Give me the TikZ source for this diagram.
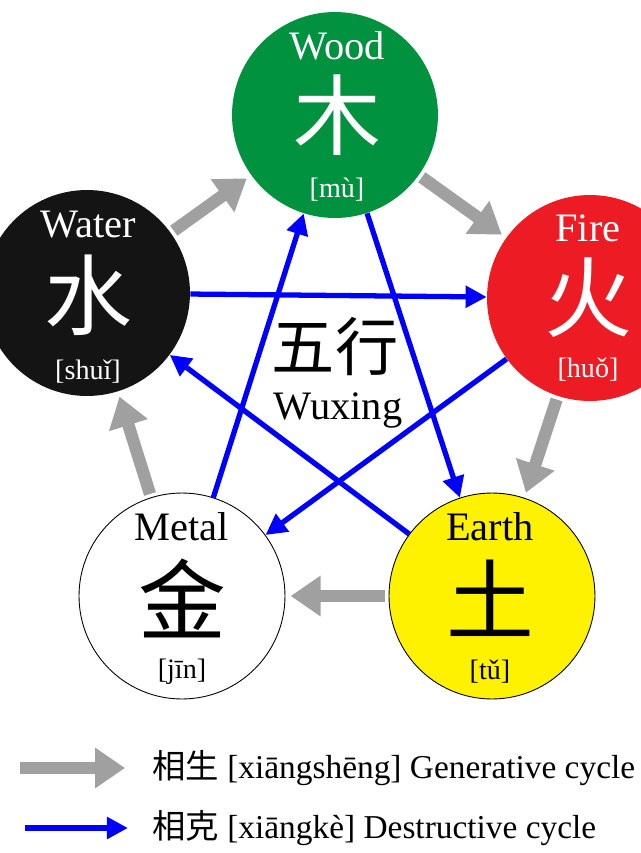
\documentclass[tikz,border=0pt]{standalone}
\usepackage{fontspec}
\setmainfont{Liberation Serif}
\newfontfamily\cjk{Noto Sans CJK SC}
\usetikzlibrary{arrows.meta}
\definecolor{woodgreen}{RGB}{0,146,63}
\definecolor{firered}{RGB}{237,28,36}
\definecolor{earthyellow}{RGB}{255,242,0}
\definecolor{waterblack}{RGB}{20,20,20}
\definecolor{cyclegray}{RGB}{160,160,160}

\tikzset{
  element/.style={circle,minimum size=4.12cm,inner sep=0pt},
  ename/.style={font=\fontsize{23}{23}\selectfont},
  echar/.style={font=\cjk\fontsize{50}{50}\selectfont},
  epy/.style={font=\fontsize{16}{16}\selectfont},
  gen/.style={draw=cyclegray,line width=7pt,-{Triangle[length=17pt,width=22pt]}},
  des/.style={draw=blue,line width=3pt,-{Triangle[length=12pt,width=12pt]}},
}

\begin{document}
\begin{tikzpicture}[x=0.02cm,y=-0.02cm]
  \useasboundingbox (0,0) rectangle (640,853);
  \fill[white] (0,0) rectangle (640,853);

  \node[element,fill=woodgreen] (wood) at (335,115) {};
  \node[element,fill=firered] (fire) at (590,298) {};
  \node[element,fill=earthyellow,draw=black,line width=0.5pt] (earth) at (492,596) {};
  \node[element,fill=white,draw=black,line width=0.5pt] (metal) at (182,596) {};
  \node[element,fill=waterblack] (water) at (87,293) {};

  % generative cycle
  \draw[gen,shorten <=2pt,shorten >=3pt] (wood) -- (fire);
  \draw[gen,shorten <=2pt,shorten >=3pt] (fire) -- (earth);
  \draw[gen,shorten <=2pt,shorten >=3pt] (earth) -- (metal);
  \draw[gen,shorten <=2pt,shorten >=3pt] (metal) -- (water);
  \draw[gen,shorten <=2pt,shorten >=3pt] (water) -- (wood);

  % destructive cycle
  \draw[des] (water) -- (fire);
  \draw[des] (fire) -- (metal);
  \draw[des] (metal) -- (wood);
  \draw[des] (wood) -- (earth);
  \draw[des] (earth) -- (water);

  % labels
  \node[white,ename] (woodname) at (337,46) {Wood};
  \node[white,echar] (woodchar) at (337,115) {木};
  \node[white,epy] (woodpy) at (337,190) {[mù]};
  \node[white,ename] (firename) at (588,228) {Fire};
  \node[white,echar] (firechar) at (588,298) {火};
  \node[white,epy] (firepy) at (588,370) {[huǒ]};
  \node[white,ename] (watername) at (88,225) {Water};
  \node[white,echar] (waterchar) at (88,295) {水};
  \node[white,epy] (waterpy) at (88,372) {[shuǐ]};
  \node[ename] (metalname) at (182,527) {Metal};
  \node[echar] (metalchar) at (182,598) {金};
  \node[epy] (metalpy) at (182,672) {[jīn]};
  \node[ename] (earthname) at (490,527) {Earth};
  \node[echar] (earthchar) at (490,598) {土};
  \node[epy] (earthpy) at (490,672) {[tǔ]};
  \node[font=\cjk\fontsize{36}{36}\selectfont] (title) at (335,347) {五行};
  \node[ename] (wuxing) at (338,410) {Wuxing};

  % legend
  \coordinate (g1) at (20,768);
  \coordinate (g2) at (125,768);
  \coordinate (d1) at (25,828);
  \coordinate (d2) at (128,828);
  \draw[gen] (g1) -- (g2);
  \draw[des,line width=3.4pt] (d1) -- (d2);
  \node[anchor=west,font=\fontsize{19}{19}\selectfont] (genlabel) at (146,768) {{\cjk 相生} [xiāngshēng] Generative cycle};
  \node[anchor=west,font=\fontsize{19}{19}\selectfont] (deslabel) at (146,828) {{\cjk 相克} [xiāngkè] Destructive cycle};
\end{tikzpicture}
\end{document}
